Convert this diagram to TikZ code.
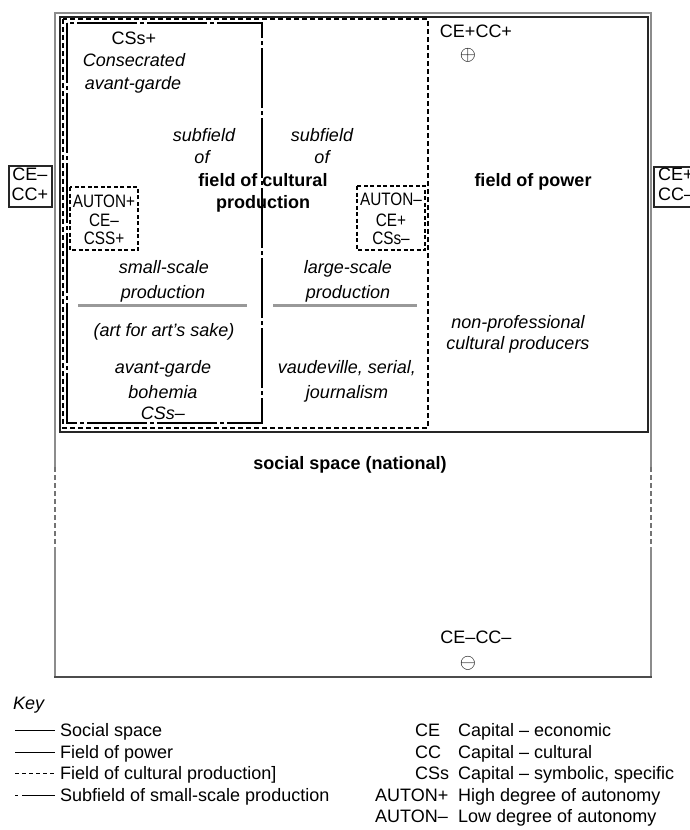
\documentclass[tikz,border=0pt]{standalone}
\usepackage{fontspec}
\setmainfont{Liberation Sans}
\newfontfamily\narrowfont[FakeStretch=0.85]{Liberation Sans}
\begin{document}
\begin{tikzpicture}[x=1pt,y=-1pt,
  t/.style={anchor=base, inner sep=0pt, font=\fontsize{18}{22}\selectfont},
  ti/.style={anchor=base, inner sep=0pt, font=\fontsize{18}{22}\selectfont\itshape},
  tb/.style={anchor=base, inner sep=0pt, font=\fontsize{18}{22}\selectfont\bfseries},
  tn/.style={anchor=base, inner sep=0pt, font=\narrowfont\fontsize{18}{22}\selectfont},
  kt/.style={anchor=base west, inner sep=0pt, font=\fontsize{18}{22}\selectfont},
  sym/.style={inner sep=0pt, font=\fontsize{21}{21}\selectfont},
  outerline/.style={draw=black!45, line width=2.5pt},
  outerdash/.style={draw=black!55, line width=2.5pt, dash pattern=on 5pt off 3pt},
  powerline/.style={draw=black!85, line width=1.5pt},
  fcpline/.style={draw=black, line width=1.2pt, dash pattern=on 5pt off 3pt},
  subline/.style={draw=black, line width=1.2pt, dash pattern=on 60pt off 3pt on 4pt off 3pt},
  sepline/.style={draw=black!40, line width=3pt},
  abox/.style={draw=black, line width=1.1pt, dash pattern=on 4pt off 2.5pt},
  sbox/.style={draw=black!85, line width=1.4pt},
  keyline/.style={draw=black, line width=1pt}
]
\useasboundingbox (0,0) rectangle (690,830);

% social space (outer)
\draw[outerline] (55,467) -- (55,13) -- (651,13) -- (651,467);
\draw[outerdash] (55,467) -- (55,547);
\draw[outerdash] (651,467) -- (651,547);
\draw[outerline] (55,547) -- (55,677);
\draw[outerline] (651,547) -- (651,677);
\draw[draw=black!70, line width=1.6pt] (54,677) -- (652,677);

% field of power
\draw[powerline] (60,17) rectangle (648,432);
% field of cultural production
\draw[fcpline] (63,19) rectangle (428,428);
% subfield of small-scale production
\draw[subline] (67,23) rectangle (262,423);

% autonomy boxes
\draw[abox] (70,187) rectangle (138,250);
\draw[abox] (357,186) rectangle (425,250);

% separators
\draw[sepline] (78,305) -- (247,305);
\draw[sepline] (273,305) -- (417,305);

% side boxes
\draw[sbox] (9,166) rectangle (52,207);
\draw[sbox] (654,167) rectangle (702,207);

% texts - small-scale subfield
\node[t]  (csplus)  at (134,44) {CSs+};
\node[ti] (consec)  at (134,66) {Consecrated};
\node[ti] (avg1)    at (133,89) {avant-garde};
\node[ti] (subf1)   at (204,141) {subfield};
\node[ti] (of1)     at (202,163) {of};
\node[tb] (fcp1)    at (263,186) {field of cultural};
\node[tb] (fcp2)    at (263,208) {production};
\node[ti] (subf2)   at (322,141) {subfield};
\node[ti] (of2)     at (322,163) {of};

\node[t]  (ceccp)   at (476,37) {CE+CC+};
\node[sym] (oplus) at (468,55.5) {$\oplus$};
\node[tb] (fop)     at (533,186) {field of power};

\node[tn] (autp)    at (104,207) {AUTON+};
\node[tn] (cem)     at (104,226) {CE–};
\node[tn] (cssp)    at (104,244) {CSS+};
\node[tn] (autm)    at (391,205) {AUTON–};
\node[tn] (cep)     at (391,226) {CE+};
\node[tn] (cssm)    at (391,244) {CSs–};

\node[ti] (ss1)     at (164,273) {small-scale};
\node[ti] (ss2)     at (163,298) {production};
\node[ti] (art)     at (164,336) {(art for art’s sake)};
\node[ti] (avg2)    at (163,373) {avant-garde};
\node[ti] (boh)     at (163,398) {bohemia};
\node[ti] (cssm2)   at (163,419) {CSs–};

\node[ti] (ls1)     at (348,273) {large-scale};
\node[ti] (ls2)     at (348,298) {production};
\node[ti] (vaud)    at (347,373) {vaudeville, serial,};
\node[ti] (journ)   at (347,398) {journalism};

\node[ti] (np1)     at (518,328) {non-professional};
\node[ti] (np2)     at (518,349) {cultural producers};

\node[tb] (social)  at (350,469) {social space (national)};

\node[t]  (ceccm)   at (476,643) {CE–CC–};
\node[sym] (ominus) at (468,663) {$\ominus$};

\node[t] (l1) at (30,180) {CE–};
\node[t] (l2) at (30,200) {CC+};
\node[anchor=base west, inner sep=0pt, font=\fontsize{18}{22}\selectfont] (r1) at (658,180) {CE+};
\node[anchor=base west, inner sep=0pt, font=\fontsize{18}{22}\selectfont] (r2) at (658,200) {CC–};

% key
\node[kt, font=\fontsize{18}{22}\selectfont\itshape] (key) at (13,709) {Key};
\draw[keyline] (15,730) -- (55,730);
\draw[keyline] (15,752) -- (55,752);
\draw[keyline, dash pattern=on 4pt off 3pt] (15,773) -- (55,773);
\draw[keyline, dash pattern=on 3pt off 4pt on 40pt off 0pt] (15,795) -- (55,795);
\node[kt] (k1) at (60,736) {Social space};
\node[kt] (k2) at (60,758) {Field of power};
\node[kt] (k3) at (60,779) {Field of cultural production]};
\node[kt] (k4) at (60,801) {Subfield of small-scale production};

\node[kt] (a1) at (415,736) {CE};
\node[kt] (a2) at (415,758) {CC};
\node[kt] (a3) at (415,779) {CSs};
\node[kt] (a4) at (375,801) {AUTON+};
\node[kt] (a5) at (375,822) {AUTON–};
\node[kt] (d1) at (458,736) {Capital – economic};
\node[kt] (d2) at (458,758) {Capital – cultural};
\node[kt] (d3) at (458,779) {Capital – symbolic, specific};
\node[kt] (d4) at (458,801) {High degree of autonomy};
\node[kt] (d5) at (458,822) {Low degree of autonomy};
\end{tikzpicture}
\end{document}
